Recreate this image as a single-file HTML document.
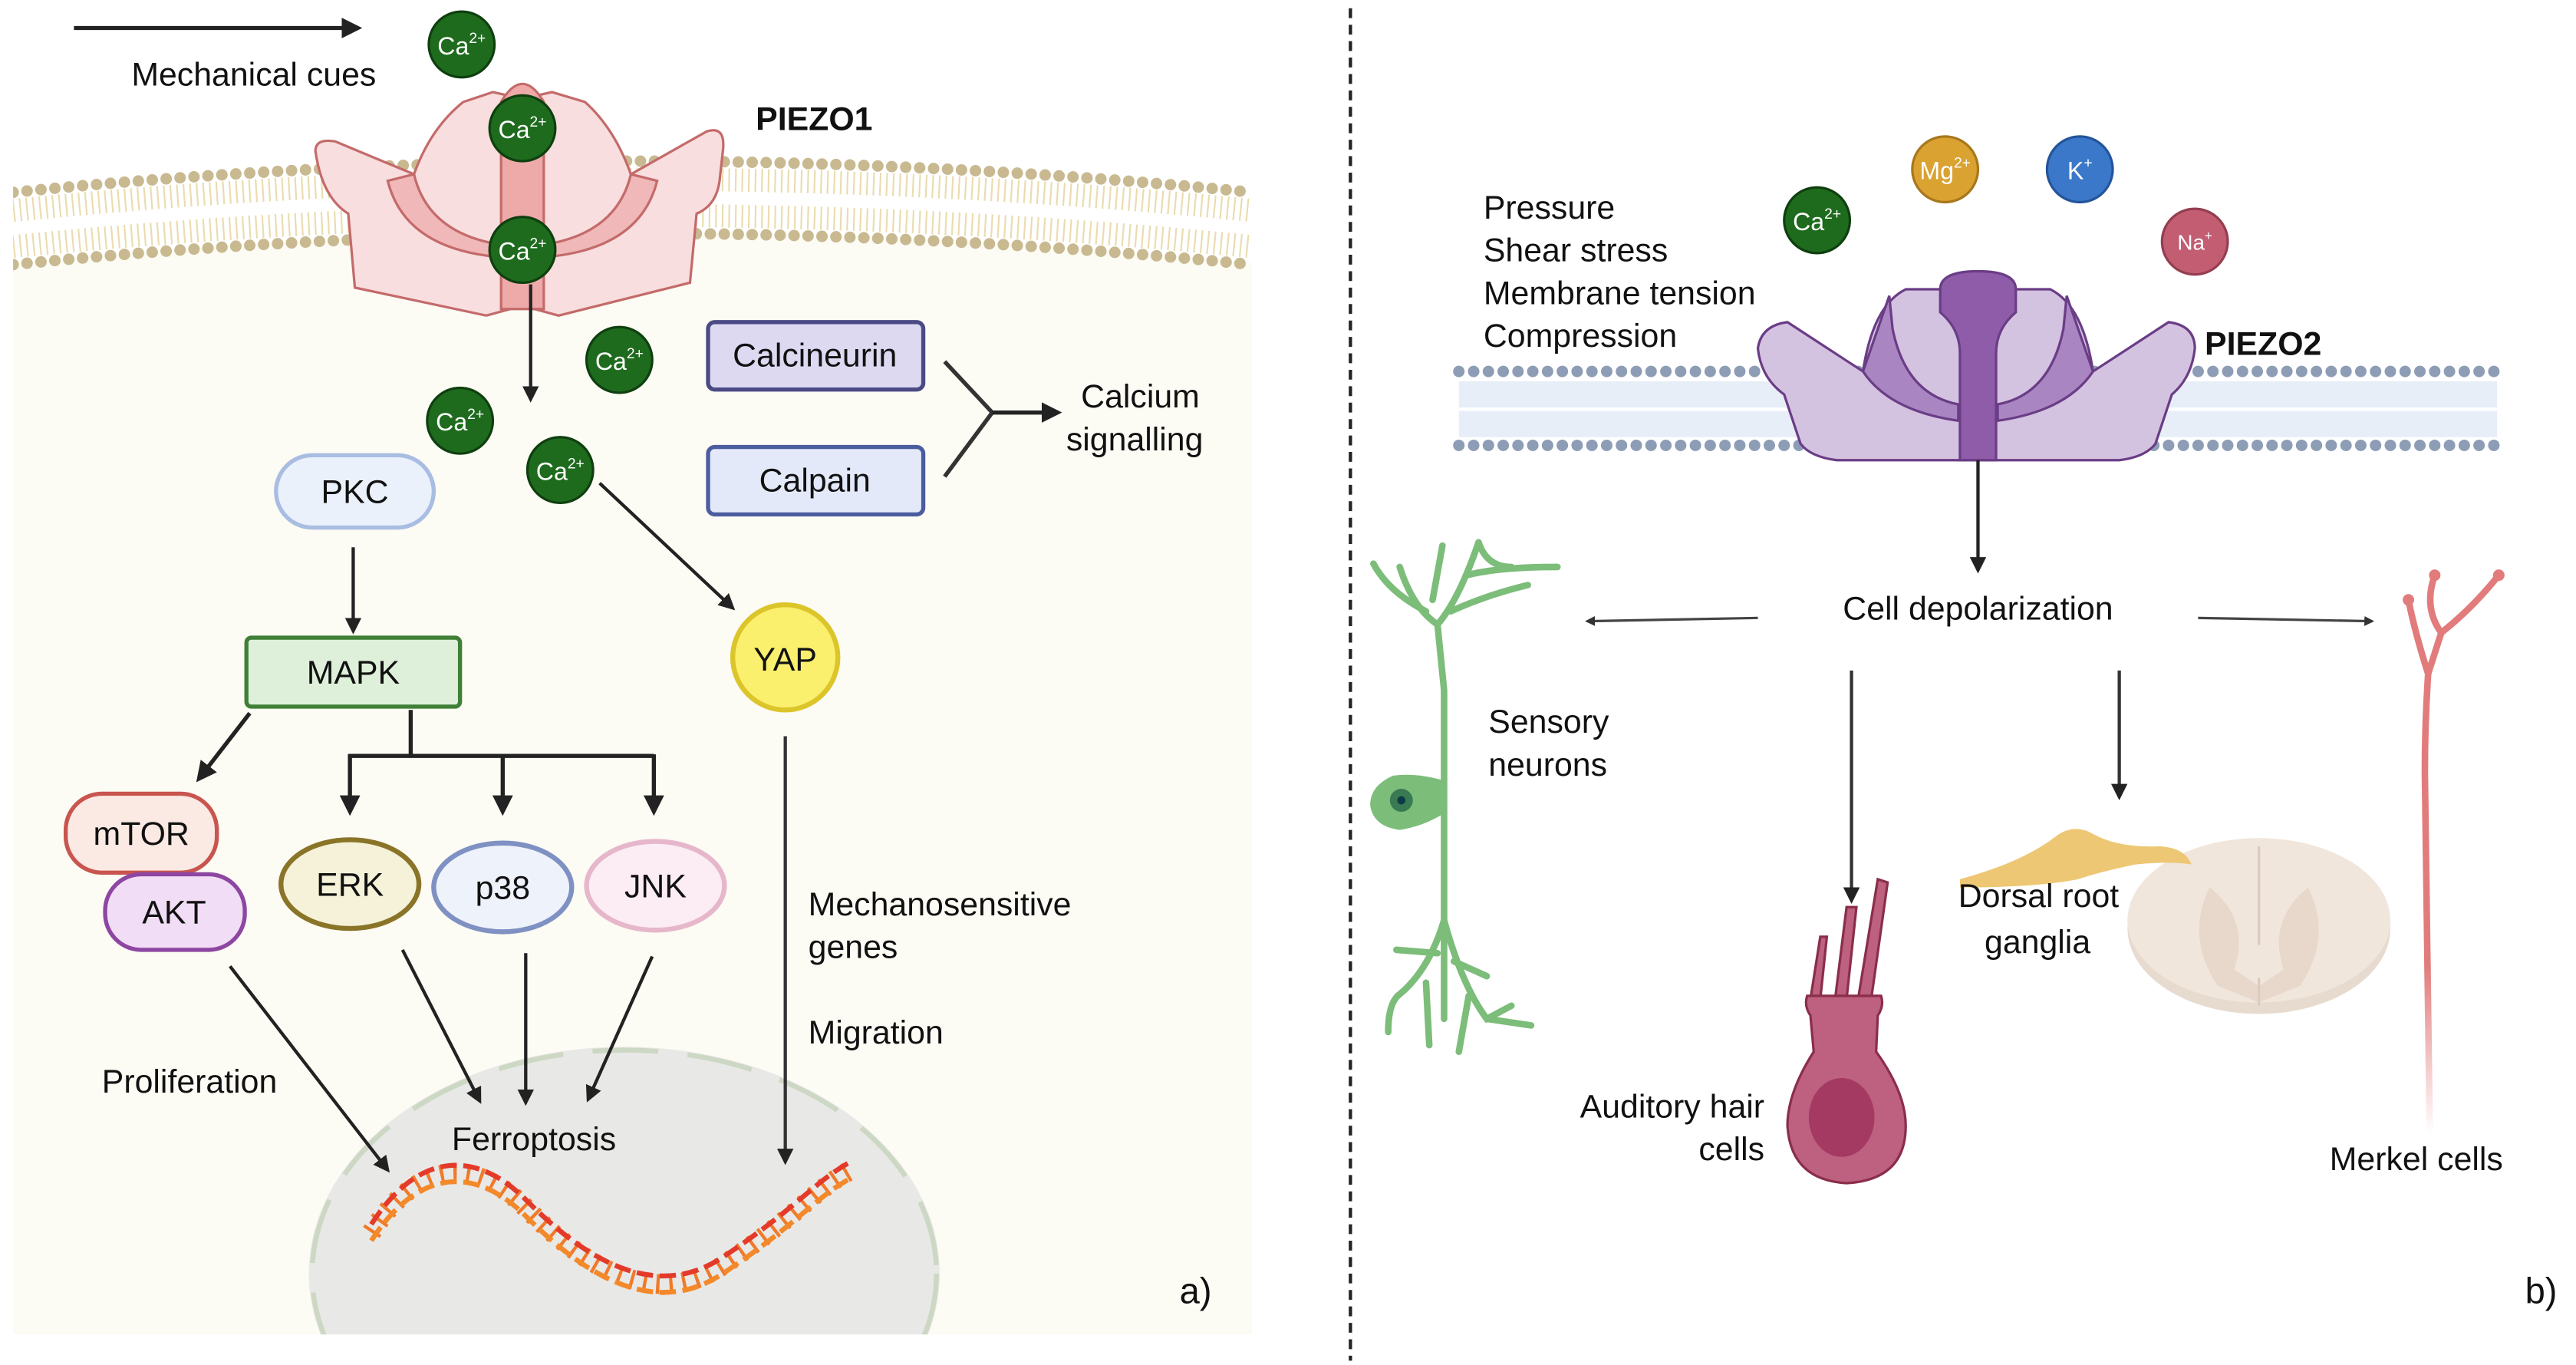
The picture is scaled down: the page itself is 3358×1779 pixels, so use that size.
<!DOCTYPE html>
<html><head><meta charset="utf-8"><style>
html,body{margin:0;padding:0;background:#fff;width:3358px;height:1779px;overflow:hidden}
body{position:relative}
svg{display:block;position:absolute;left:0;top:0;overflow:hidden}
text{font-family:"Liberation Sans",sans-serif;fill:#111}
</style></head><body>
<svg width="3358" height="1779" viewBox="0 0 1568 830.6" xmlns="http://www.w3.org/2000/svg">
<defs>
<marker id="ah" viewBox="0 0 10 10" refX="8" refY="5" markerWidth="5" markerHeight="5" orient="auto"><path d="M0,0 L10,5 L0,10 z" fill="#222"/></marker>
<marker id="as" viewBox="0 0 10 10" refX="8" refY="5" markerWidth="4" markerHeight="4" orient="auto"><path d="M0,0 L10,5 L0,10 z" fill="#333"/></marker>
<clipPath id="cellclip"><rect x="8" y="0" width="754" height="812"/></clipPath>
</defs>
<rect width="1568" height="830.6" fill="#fff"/>

<g clip-path="url(#cellclip)">
<path d="M8,160 Q385,122 762,160 L762,812 L8,812 Z" fill="#fcfbf4"/>
<path d="M8,128 Q385,90 762,128" fill="none" stroke="#eadcae" stroke-width="14" stroke-dasharray="1 3"/>
<path d="M8,150 Q385,112 762,150" fill="none" stroke="#eadcae" stroke-width="14" stroke-dasharray="1 3"/>
<path d="M8,117 Q385,79 762,117" fill="none" stroke="#c9b991" stroke-width="7" stroke-linecap="round" stroke-dasharray="0 8.5"/>
<path d="M8,161 Q385,123 762,161" fill="none" stroke="#c9b991" stroke-width="7" stroke-linecap="round" stroke-dasharray="0 8.5"/>
<ellipse cx="380" cy="775" rx="192" ry="138" fill="#e8e8e6"/>
<ellipse cx="380" cy="775" rx="190" ry="136" fill="none" stroke="#cdd8c4" stroke-width="3" stroke-dasharray="40 18"/>
</g>

<g stroke="#c46a6a" stroke-width="1.5">
<path d="M192,92 Q192,84 204,86 L252,106 Q262,78 282,62 L300,56 L318,60 L336,56 L356,62 Q374,78 384,106 L430,80 Q442,76 440,92 L438,110 Q436,125 424,130 L420,172 L340,192 L318,186 L296,192 L216,175 L212,130 Q196,120 192,92 Z" fill="#f8dede"/>
<path d="M252,106 Q260,140 300,148 L300,156 Q246,150 236,110 Z" fill="#f0b8b8"/>
<path d="M384,106 Q376,140 336,148 L336,156 Q390,150 400,110 Z" fill="#f0b8b8"/>
<path d="M305,62 Q318,40 331,62 L331,188 L305,188 Z" fill="#eeaaa9"/>
</g>
<text x="460" y="79" font-size="20" font-weight="bold">PIEZO1</text>

<line x1="45" y1="17" x2="218" y2="17" stroke="#222" stroke-width="2.5" marker-end="url(#ah)"/>
<text x="80" y="52" font-size="20">Mechanical cues</text>

<g font-size="15" text-anchor="middle">
<g><circle cx="281" cy="27" r="20" fill="#1e6b1e" stroke="#0f3f0f" stroke-width="1.5"/><text x="281" y="33" style="fill:#fff">Ca<tspan font-size="9" dy="-7">2+</tspan></text></g>
<g><circle cx="318" cy="78" r="20" fill="#1e6b1e" stroke="#0f3f0f" stroke-width="1.5"/><text x="318" y="84" style="fill:#fff">Ca<tspan font-size="9" dy="-7">2+</tspan></text></g>
<g><circle cx="318" cy="152" r="20" fill="#1e6b1e" stroke="#0f3f0f" stroke-width="1.5"/><text x="318" y="158" style="fill:#fff">Ca<tspan font-size="9" dy="-7">2+</tspan></text></g>
<g><circle cx="377" cy="219" r="20" fill="#1e6b1e" stroke="#0f3f0f" stroke-width="1.5"/><text x="377" y="225" style="fill:#fff">Ca<tspan font-size="9" dy="-7">2+</tspan></text></g>
<g><circle cx="280" cy="256" r="20" fill="#1e6b1e" stroke="#0f3f0f" stroke-width="1.5"/><text x="280" y="262" style="fill:#fff">Ca<tspan font-size="9" dy="-7">2+</tspan></text></g>
<g><circle cx="341" cy="286" r="20" fill="#1e6b1e" stroke="#0f3f0f" stroke-width="1.5"/><text x="341" y="292" style="fill:#fff">Ca<tspan font-size="9" dy="-7">2+</tspan></text></g>
</g>

<line x1="323" y1="173" x2="323" y2="243" stroke="#222" stroke-width="2" marker-end="url(#ah)"/>

<rect x="431" y="196" width="131" height="41" rx="4" fill="#dcd9f1" stroke="#4b4a85" stroke-width="2.5"/>
<text x="496" y="223" font-size="20" text-anchor="middle">Calcineurin</text>
<rect x="431" y="272" width="131" height="41" rx="4" fill="#e4e9f9" stroke="#4b5d9e" stroke-width="2.5"/>
<text x="496" y="299" font-size="20" text-anchor="middle">Calpain</text>
<path d="M575,220 L604,251 L575,290" fill="none" stroke="#333" stroke-width="2.5"/>
<line x1="604" y1="251" x2="644" y2="251" stroke="#222" stroke-width="2.5" marker-end="url(#ah)"/>
<text x="658" y="248" font-size="20">Calcium</text>
<text x="649" y="274" font-size="20">signalling</text>

<rect x="168" y="277" width="96" height="44" rx="22" fill="#eaf1fb" stroke="#a9bde2" stroke-width="2.5"/>
<text x="216" y="306" font-size="20" text-anchor="middle">PKC</text>
<line x1="215" y1="333" x2="215" y2="384" stroke="#222" stroke-width="2" marker-end="url(#ah)"/>
<rect x="150" y="388" width="130" height="42" rx="3" fill="#def0d9" stroke="#3f7f36" stroke-width="2.5"/>
<text x="215" y="416" font-size="20" text-anchor="middle">MAPK</text>

<line x1="365" y1="294" x2="446" y2="370" stroke="#222" stroke-width="2" marker-end="url(#ah)"/>
<circle cx="478" cy="400" r="32" fill="#fbef6e" stroke="#dcc52a" stroke-width="3"/>
<text x="478" y="408" font-size="20" text-anchor="middle">YAP</text>
<line x1="478" y1="448" x2="478" y2="707" stroke="#333" stroke-width="2" marker-end="url(#ah)"/>

<line x1="152" y1="434" x2="121" y2="474" stroke="#222" stroke-width="2.5" marker-end="url(#ah)"/>
<path d="M250,432 L250,460 M212,460 L398,460" fill="none" stroke="#222" stroke-width="2.5"/>
<line x1="213" y1="459" x2="213" y2="494" stroke="#222" stroke-width="2.5" marker-end="url(#ah)"/>
<line x1="306" y1="459" x2="306" y2="494" stroke="#222" stroke-width="2.5" marker-end="url(#ah)"/>
<line x1="398" y1="459" x2="398" y2="494" stroke="#222" stroke-width="2.5" marker-end="url(#ah)"/>

<rect x="40" y="483" width="92" height="48" rx="22" fill="#fbe9e3" stroke="#c8554f" stroke-width="2.5"/>
<text x="86" y="514" font-size="20" text-anchor="middle">mTOR</text>
<rect x="64" y="532" width="85" height="46" rx="22" fill="#f1ddf5" stroke="#8d46a2" stroke-width="2.5"/>
<text x="106" y="562" font-size="20" text-anchor="middle">AKT</text>
<ellipse cx="213" cy="538" rx="42" ry="27" fill="#f5f2d9" stroke="#8a7428" stroke-width="3"/>
<text x="213" y="545" font-size="20" text-anchor="middle">ERK</text>
<ellipse cx="306" cy="540" rx="42" ry="27" fill="#eef2fb" stroke="#7f91c3" stroke-width="3"/>
<text x="306" y="547" font-size="20" text-anchor="middle">p38</text>
<ellipse cx="399" cy="539" rx="42" ry="27" fill="#fcecf3" stroke="#e6b7cb" stroke-width="3"/>
<text x="399" y="546" font-size="20" text-anchor="middle">JNK</text>

<line x1="140" y1="588" x2="236" y2="712" stroke="#222" stroke-width="2" marker-end="url(#ah)"/>
<line x1="245" y1="578" x2="292" y2="670" stroke="#222" stroke-width="2" marker-end="url(#ah)"/>
<line x1="320" y1="580" x2="320" y2="671" stroke="#222" stroke-width="2" marker-end="url(#ah)"/>
<line x1="397" y1="582" x2="358" y2="669" stroke="#222" stroke-width="2" marker-end="url(#ah)"/>

<text x="62" y="665" font-size="20">Proliferation</text>
<text x="275" y="700" font-size="20">Ferroptosis</text>
<text x="492" y="557" font-size="20">Mechanosensitive</text>
<text x="492" y="583" font-size="20">genes</text>
<text x="492" y="635" font-size="20">Migration</text>

<path d="M226,750 C255,705 290,705 320,735 S395,800 440,770 S495,725 516,713" fill="none" stroke="#f07a2a" stroke-width="12" stroke-dasharray="2 6"/>
<path d="M226,745 C255,700 290,700 320,730 S395,795 440,765 S495,720 516,708" fill="none" stroke="#e43a2a" stroke-width="3" stroke-dasharray="10 4"/>
<path d="M226,755 C255,710 290,710 320,740 S395,805 440,775 S495,730 516,718" fill="none" stroke="#f4892a" stroke-width="3" stroke-dasharray="10 4"/>
<text x="718" y="793" font-size="22">a)</text>

<line x1="822" y1="5" x2="822" y2="828" stroke="#222" stroke-width="2" stroke-dasharray="6 4"/>

<g font-size="20">
<text x="903" y="133">Pressure</text>
<text x="903" y="159">Shear stress</text>
<text x="903" y="185">Membrane tension</text>
<text x="903" y="211">Compression</text>
</g>
<g font-size="15" text-anchor="middle">
<circle cx="1106" cy="134" r="20" fill="#1e6b1e" stroke="#0f3f0f" stroke-width="1.5"/><text x="1106" y="140" style="fill:#fff">Ca<tspan font-size="9" dy="-7">2+</tspan></text>
<circle cx="1184" cy="103" r="20" fill="#d9a231" stroke="#a8771c" stroke-width="1.5"/><text x="1184" y="109" style="fill:#fff">Mg<tspan font-size="9" dy="-7">2+</tspan></text>
<circle cx="1266" cy="103" r="20" fill="#3b78c9" stroke="#24549a" stroke-width="1.5"/><text x="1266" y="109" style="fill:#fff">K<tspan font-size="9" dy="-7">+</tspan></text>
<circle cx="1336" cy="147" r="20" fill="#c35d72" stroke="#943e50" stroke-width="1.5"/><text x="1336" y="152" style="fill:#fff" font-size="13">Na<tspan font-size="8" dy="-6">+</tspan></text>
</g>
<line x1="888" y1="226" x2="1520" y2="226" stroke="#8d9db6" stroke-width="7" stroke-linecap="round" stroke-dasharray="0 9"/>
<line x1="888" y1="271" x2="1520" y2="271" stroke="#8d9db6" stroke-width="7" stroke-linecap="round" stroke-dasharray="0 9"/>
<rect x="888" y="232" width="632" height="34" fill="#e8eef8"/>
<line x1="888" y1="249" x2="1520" y2="249" stroke="#fff" stroke-width="2"/>
<g stroke="#6a3d86" stroke-width="1.5">
<path d="M1070,212 Q1072,198 1088,196 L1134,226 Q1140,186 1160,176 L1248,176 Q1268,186 1274,226 L1320,196 Q1336,198 1336,212 Q1334,230 1322,240 L1312,270 Q1306,278 1290,280 L1118,280 Q1102,278 1096,270 L1086,240 Q1072,230 1070,212 Z" fill="#d4c3e0"/>
<path d="M1134,226 Q1150,250 1192,256 L1192,246 Q1160,240 1152,200 L1150,180 Z" fill="#a985c2"/>
<path d="M1274,226 Q1258,250 1216,256 L1216,246 Q1248,240 1256,200 L1258,180 Z" fill="#a985c2"/>
<path d="M1181,176 Q1181,165 1204,165 Q1227,165 1227,176 L1227,190 Q1215,200 1215,215 L1215,280 L1193,280 L1193,215 Q1193,200 1181,190 Z" fill="#8e5ca8"/>
</g>
<text x="1342" y="216" font-size="20" font-weight="bold">PIEZO2</text>
<line x1="1204" y1="280" x2="1204" y2="347" stroke="#222" stroke-width="2" marker-end="url(#ah)"/>
<text x="1204" y="377" font-size="20" text-anchor="middle">Cell depolarization</text>
<line x1="1070" y1="376" x2="966" y2="378" stroke="#444" stroke-width="1.5" marker-end="url(#as)"/>
<line x1="1338" y1="376" x2="1444" y2="378" stroke="#444" stroke-width="1.5" marker-end="url(#as)"/>
<line x1="1127" y1="408" x2="1127" y2="548" stroke="#333" stroke-width="2" marker-end="url(#ah)"/>
<line x1="1290" y1="408" x2="1290" y2="485" stroke="#333" stroke-width="2" marker-end="url(#ah)"/>

<g fill="none" stroke="#7cbd7a" stroke-width="4" stroke-linecap="round">
<path d="M879,620 L879,420 L875,380 Q860,370 852,345"/>
<path d="M875,380 Q888,365 900,330"/>
<path d="M868,372 Q845,360 836,343"/>
<path d="M883,372 Q905,362 930,356"/>
<path d="M893,350 Q912,345 948,345"/>
<path d="M900,330 Q905,345 920,345"/>
<path d="M872,365 L878,332"/>
<path d="M879,560 Q870,590 852,605 Q845,610 845,628"/>
<path d="M879,560 Q890,600 905,620 L920,612"/>
<path d="M875,580 L850,578"/>
<path d="M885,585 L905,594"/>
<path d="M868,598 L870,636"/>
<path d="M894,606 L888,640"/>
<path d="M905,620 L932,624"/>
</g>
<path d="M879,475 Q862,470 848,472 Q834,478 834,490 Q836,503 852,505 Q866,503 879,495 Z" fill="#7cbd7a"/>
<circle cx="853" cy="487" r="7" fill="#3a7a52"/><circle cx="853" cy="487" r="2.5" fill="#0d3b45"/>
<text x="906" y="446" font-size="20">Sensory</text>
<text x="906" y="472" font-size="20">neurons</text>

<g fill="#be6080" stroke="#8a2e4a" stroke-width="1.5">
<path d="M1102,608 L1108,570 L1112,570 L1108,608 Z"/>
<path d="M1117,608 L1124,552 L1130,552 L1124,608 Z"/>
<path d="M1131,608 L1143,535 L1149,537 L1139,608 Z"/>
<path d="M1100,606 L1145,606 Q1147,612 1143,618 L1142,640 Q1160,665 1160,685 Q1160,718 1124,720 Q1090,718 1088,685 Q1088,665 1104,640 L1102,618 Q1098,612 1100,606 Z"/>
</g>
<ellipse cx="1121" cy="680" rx="20" ry="24" fill="#a43a62"/>
<text x="1074" y="680" font-size="20" text-anchor="end">Auditory hair</text>
<text x="1074" y="706" font-size="20" text-anchor="end">cells</text>

<ellipse cx="1375" cy="565" rx="80" ry="52" fill="#e7dbcf"/>
<ellipse cx="1375" cy="560" rx="80" ry="50" fill="#f1e6dc"/>
<path d="M1345,540 Q1370,560 1360,590 L1375,600 L1390,590 Q1380,560 1405,540 Q1420,570 1400,600 L1375,610 L1350,600 Q1330,570 1345,540 Z" fill="#e8d8cc"/>
<path d="M1375,515 L1375,575 M1375,595 L1375,612" stroke="#dccbbd" stroke-width="1.5"/>
<path d="M1193,535 Q1230,525 1250,510 Q1262,500 1275,508 Q1290,516 1315,515 Q1330,516 1334,526 Q1320,524 1300,526 Q1280,530 1265,535 Q1240,540 1193,540 Z" fill="#edc774"/>
<text x="1192" y="552" font-size="20">Dorsal root</text>
<text x="1208" y="580" font-size="20">ganglia</text>

<defs><linearGradient id="mg" x1="0" y1="0" x2="0" y2="1"><stop offset="0.7" stop-color="#e27c7c"/><stop offset="1" stop-color="#e27c7c" stop-opacity="0"/></linearGradient></defs>
<path d="M1479,690 L1476,470 Q1476,440 1478,410 Q1470,385 1466,365 M1478,410 L1486,385 Q1475,370 1482,350 M1486,385 Q1505,370 1521,350" fill="none" stroke="url(#mg)" stroke-width="4" stroke-linecap="round"/>
<circle cx="1482" cy="350" r="3.5" fill="#e27c7c"/><circle cx="1521" cy="350" r="3.5" fill="#e27c7c"/><circle cx="1466" cy="365" r="3.5" fill="#e27c7c"/>
<text x="1418" y="712" font-size="20">Merkel cells</text>
<text x="1537" y="793" font-size="22">b)</text>
</svg>
</body></html>
